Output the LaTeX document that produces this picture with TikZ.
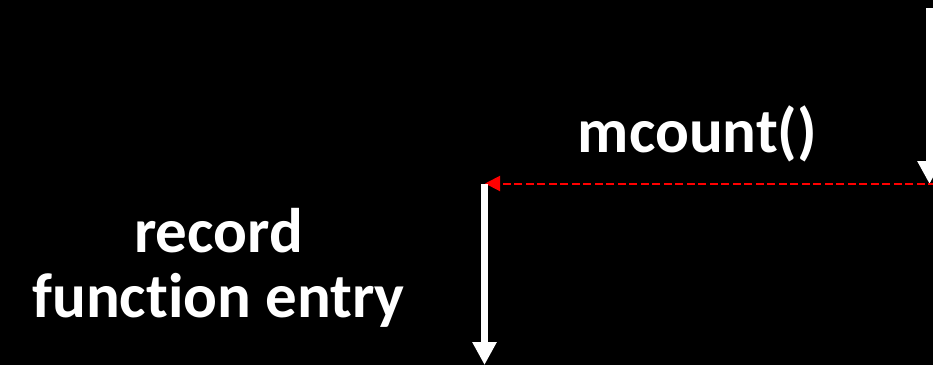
\documentclass[tikz,border=0pt]{standalone}
\usepackage{fontspec}
\setmainfont{Carlito}[Ligatures=NoCommon]
\usepackage{tikz}
\usetikzlibrary{arrows.meta, positioning}

\begin{document}
\begin{tikzpicture}[
  x=1pt, y=-1pt,
  every node/.style={font=\fontsize{63}{65}\selectfont\bfseries, text=white, align=center, inner sep=0pt},
  flow arrow/.style={draw=white, line width=7pt, -{Triangle[width=23pt, length=23pt]}},
  call arrow/.style={draw=red, line width=2pt, dash pattern=on 8pt off 3.5pt, -{Triangle[width=15pt, length=15pt]}}
]

% black page
\fill[black] (0,0) rectangle (933,365);
\useasboundingbox (0,0) rectangle (933,365);

% end points of the arrows
\coordinate (mcount top) at (929.5,8);
\coordinate (mcount bottom) at (929.5,184);
\coordinate (return right) at (936,183.5);
\coordinate (return tip) at (485,183.5);
\coordinate (entry top) at (484.5,184);
\coordinate (entry bottom) at (484.5,365);

\begin{scope}
  \clip (0,0) rectangle (933,365);
  \draw[flow arrow] (mcount top) -- (mcount bottom);
  \draw[call arrow] (return right) -- (return tip);
\end{scope}
\draw[flow arrow] (entry top) -- (entry bottom);

% labels
\node[anchor=base] (mcount) at (697.5,152) {mcount()};
\node[anchor=base] (record) at (218.5,317) {record\\function entry};

\end{tikzpicture}
\end{document}
